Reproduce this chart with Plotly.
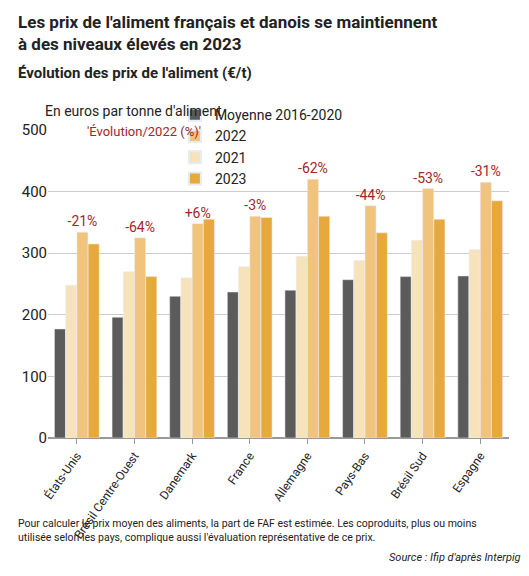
import plotly.graph_objects as go

categories = ["États-Unis", "Brésil Centre-Ouest", "Danemark", "France", "Allemagne", "Pays-Bas", "Brésil Sud", "Espagne"]
moyenne = [177, 196, 230, 237, 240, 257, 262, 263]
y2021 = [248, 270, 260, 278, 295, 288, 321, 306]
y2022 = [334, 325, 348, 360, 420, 377, 405, 415]
y2023 = [315, 262, 355, 358, 360, 333, 355, 385]
evolution = ["-21%", "-64%", "+6%", "-3%", "-62%", "-44%", "-53%", "-31%"]

fig = go.Figure()
fig.add_bar(x=categories, y=moyenne, name="Moyenne 2016-2020", marker_color="#5b5b5b", legendrank=1)
fig.add_bar(x=categories, y=y2021, name="2021", marker_color="#f6e3bb", legendrank=3)
fig.add_bar(x=categories, y=y2022, name="2022", marker_color="#f1c47e", legendrank=2,
            text=evolution, textposition="outside", constraintext="none",
            textfont=dict(color="#a3262a", size=14, family="Roboto"), cliponaxis=False)
fig.add_bar(x=categories, y=y2023, name="2023", marker_color="#e8a93c", legendrank=4)

fig.update_layout(
    width=529, height=576, barmode="group", bargap=0.22, bargroupgap=0.02,
    plot_bgcolor="white", paper_bgcolor="white",
    font=dict(family="Roboto", color="#222"),
    margin=dict(l=40, r=28, t=122, b=146),
    showlegend=True,
    legend=dict(orientation="h", x=0.47, y=1.1, xanchor="left", yanchor="top",
                font=dict(size=14), entrywidth=130, entrywidthmode="pixels",
                itemsizing="constant", bgcolor="rgba(0,0,0,0)"),
    annotations=[
        dict(text="<b>Les prix de l'aliment français et danois se maintiennent<br>à des niveaux élevés en 2023</b>",
             xref="paper", yref="paper", x=-0.07, y=1.39, xanchor="left", yanchor="top",
             showarrow=False, align="left", font=dict(size=17, color="#222")),
        dict(text="<b>Évolution des prix de l'aliment (€/t)</b>",
             xref="paper", yref="paper", x=-0.07, y=1.22, xanchor="left", yanchor="top",
             showarrow=False, align="left", font=dict(size=15, color="#222")),
        dict(text="En euros par tonne d'aliment", xref="paper", yref="paper", x=-0.01, y=1.095,
             xanchor="left", yanchor="top", showarrow=False, font=dict(size=14)),
        dict(text="'Évolution/2022 (%)'", xref="paper", yref="paper", x=0.08, y=1.025,
             xanchor="left", yanchor="top", showarrow=False, font=dict(size=13, color="#a3262a")),
        dict(text="Pour calculer le prix moyen des aliments, la part de FAF est estimée. Les coproduits, plus ou moins<br>utilisée selon les pays, complique aussi l'évaluation représentative de ce prix.",
             xref="paper", yref="paper", x=-0.07, y=-0.25, xanchor="left", yanchor="top",
             showarrow=False, align="left", font=dict(size=10.5)),
        dict(text="<i>Source : Ifip d'après Interpig</i>", xref="paper", yref="paper", x=1.03, y=-0.36,
             xanchor="right", yanchor="top", showarrow=False, font=dict(size=11)),
        dict(text="REUSSIR.FR", xref="paper", yref="paper", x=1.06, y=-0.13, textangle=-90,
             xanchor="center", yanchor="middle", showarrow=False, font=dict(size=10)),
    ],
)
fig.update_yaxes(range=[0, 500], dtick=100, gridcolor="#cccccc", zeroline=True, zerolinecolor="#999",
                 tickfont=dict(size=15), ticks="")
fig.update_xaxes(tickangle=-55, tickfont=dict(size=12), showline=True, linecolor="#999",
                 ticks="outside", tickcolor="#999", showgrid=False, automargin=False)
fig.write_html("out.html")
